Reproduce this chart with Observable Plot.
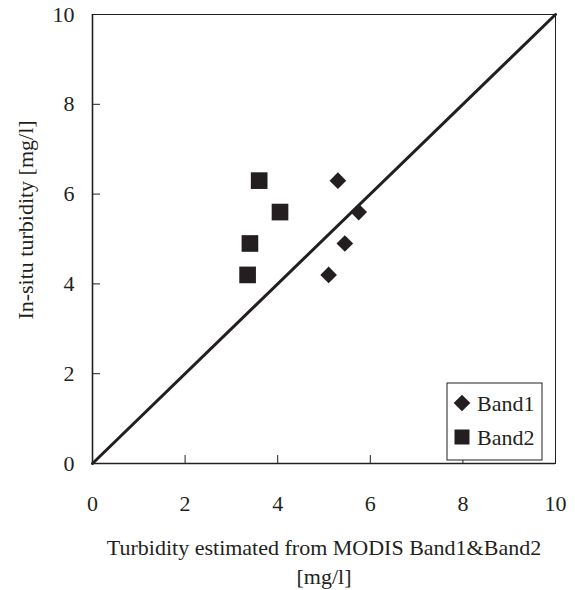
<!DOCTYPE html>
<html><head><meta charset="utf-8">
<script src="https://cdn.jsdelivr.net/npm/d3@7"></script>
<script src="https://cdn.jsdelivr.net/npm/@observablehq/plot@0.6"></script>
<style>body{margin:0;background:#fff} #chart{width:575px;height:590px}</style>
</head><body><div id="chart"></div>
<script>
const seriesNames = ["Band1", "Band2"];
const band1X = [5.10, 5.30, 5.45, 5.75];
const band1Y = [4.2, 6.3, 4.9, 5.6];
const band2X = [3.35, 3.40, 3.60, 4.05];
const band2Y = [4.2, 4.9, 6.3, 5.6];
const lineX = [0, 10];
const lineY = [0, 10];
const xTicks = [0, 2, 4, 6, 8, 10];
const yTicks = [0, 2, 4, 6, 8, 10];
const innerTicks = [2, 4, 6, 8];
const xTitle = "Turbidity estimated from MODIS Band1&Band2\n[mg/l]";
const yTitle = "In-situ turbidity [mg/l]";

const ink = "#231f20";
const font = "'Liberation Serif', 'Times New Roman', serif";
const W = 575, H = 590, mL = 92, mR = 20, mT = 14, mB = 127;
const innerW = W - mL - mR, innerH = H - mT - mB;
const tickLen = 8;

const band1 = band1X.map((x, i) => ({x, y: band1Y[i]}));
const band2 = band2X.map((x, i) => ({x, y: band2Y[i]}));
const diag = lineX.map((x, i) => ({x, y: lineY[i]}));

const plot = Plot.plot({
  width: W, height: H,
  marginLeft: mL, marginRight: mR, marginTop: mT, marginBottom: mB,
  style: {fontFamily: font, fontSize: "22px", color: ink, background: "#fff"},
  x: {domain: [0, 10]},
  y: {domain: [0, 10]},
  marks: [
    Plot.frame({stroke: ink, strokeWidth: 1}),
    Plot.ruleX([0], {stroke: ink, strokeWidth: 1.6}),
    Plot.ruleY([0], {stroke: ink, strokeWidth: 1.6}),
    Plot.tickX(innerTicks, {x: d => d, insetTop: innerH - tickLen, stroke: ink, strokeWidth: 1}),
    Plot.tickY(innerTicks, {y: d => d, insetRight: innerW - tickLen, stroke: ink, strokeWidth: 1}),
    Plot.axisX({ticks: xTicks, tickSize: 0, tickPadding: 32, label: null, fill: ink}),
    Plot.axisY({ticks: yTicks, tickSize: 0, tickPadding: 18, label: null, fill: ink}),
    Plot.line(diag, {x: "x", y: "y", stroke: ink, strokeWidth: 3}),
    Plot.dot(band1, {x: "x", y: "y", symbol: "diamond2", r: 7.5, fill: ink, stroke: "none"}),
    Plot.dot(band2, {x: "x", y: "y", symbol: "square", r: 9.4, fill: ink, stroke: "none"}),
    Plot.text([xTitle], {frameAnchor: "bottom", textAnchor: "middle", lineAnchor: "top", dy: 71, lineHeight: 1.32, fill: ink}),
    Plot.text([yTitle], {frameAnchor: "left", textAnchor: "middle", rotate: -90, dx: -67, dy: -19, fill: ink})
  ]
});

// Legend box inside bottom-right of the frame
const svg = d3.select(plot);
const boxW = 95, boxH = 77;
const bx = W - mR - 13 - boxW, by = H - mB - 3 - boxH;
const lg = svg.append("g").attr("font-family", font).attr("font-size", "22px").attr("fill", ink).attr("text-anchor", "start");
lg.append("rect").attr("x", bx).attr("y", by).attr("width", boxW).attr("height", boxH)
  .attr("fill", "#fff").attr("stroke", ink).attr("stroke-width", 1);
const legendSymbols = [d3.symbol(d3.symbolDiamond2, Math.PI * 7.5 * 7.5), d3.symbol(d3.symbolSquare, 225)];
seriesNames.forEach((name, i) => {
  const cy = by + 20 + i * 34;
  lg.append("path").attr("d", legendSymbols[i]()).attr("transform", `translate(${bx + 15},${cy})`).attr("fill", ink);
  lg.append("text").attr("x", bx + 30).attr("y", cy + 8).text(name);
});

document.getElementById("chart").append(plot);
</script>
</body></html>
